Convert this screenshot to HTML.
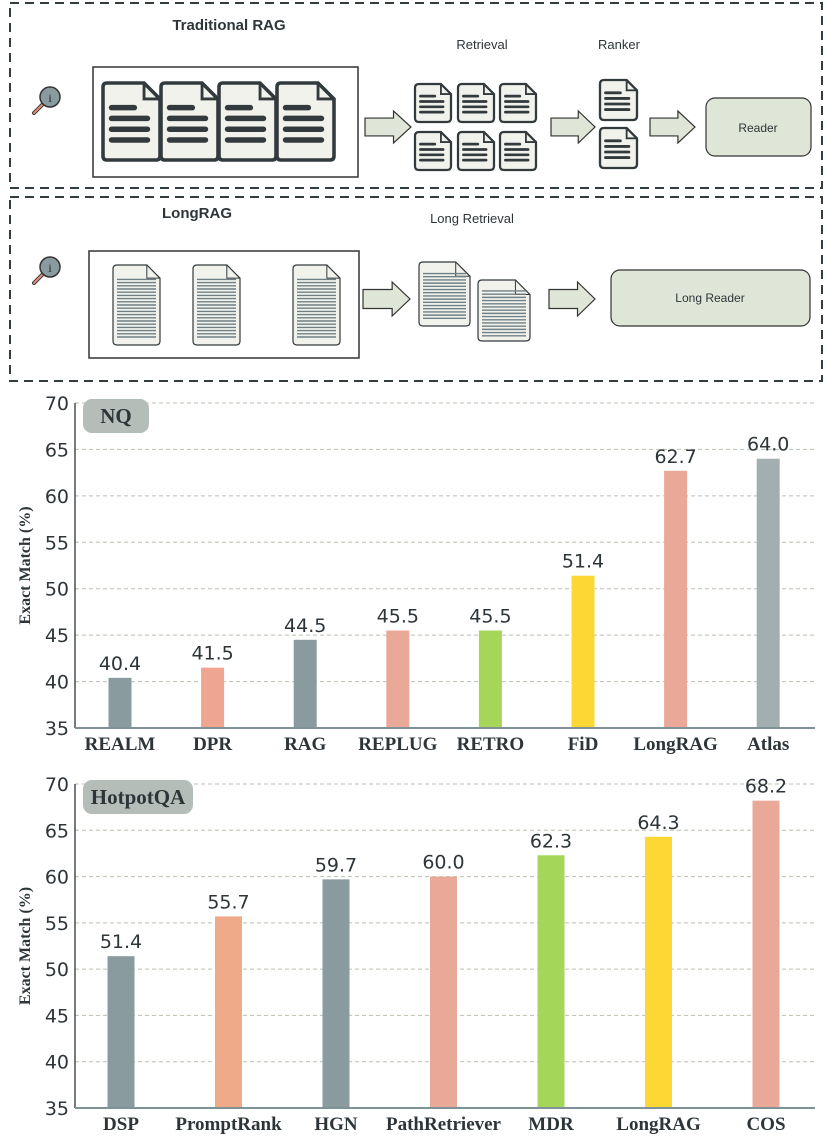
<!DOCTYPE html>
<html><head><meta charset="utf-8"><style>
html,body{margin:0;padding:0;background:#fff;}
svg{display:block;font-family:"Liberation Sans",sans-serif;}
.serif{font-family:"Liberation Serif",serif;font-weight:bold;}
.dv{font-family:"DejaVu Sans",sans-serif;}
</style></head><body>
<svg id="s" width="830" height="1145" viewBox="0 0 830 1145">
<g id="diag">
<rect x="10" y="3" width="812" height="185" fill="none" stroke="#333c40" stroke-width="2" stroke-dasharray="9,6"/>
<text x="229" y="30" font-size="15" font-weight="bold" fill="#2d3539" text-anchor="middle">Traditional RAG</text>
<text x="482" y="49" font-size="13" fill="#2d3539" text-anchor="middle">Retrieval</text>
<text x="619" y="49" font-size="13" fill="#2d3539" text-anchor="middle">Ranker</text>
<rect x="93" y="67" width="265" height="110" fill="#fff" stroke="#333" stroke-width="1.5"/>
<rect x="706" y="98" width="105" height="58" rx="9" fill="#dfe6d8" stroke="#333" stroke-width="1.2"/>
<text x="758" y="132" font-size="12" fill="#2d3539" text-anchor="middle">Reader</text>
<rect x="10" y="197" width="812" height="184" fill="none" stroke="#333c40" stroke-width="2" stroke-dasharray="9,6"/>
<text x="197" y="218" font-size="15" font-weight="bold" fill="#2d3539" text-anchor="middle">LongRAG</text>
<text x="472" y="223" font-size="13" fill="#2d3539" text-anchor="middle">Long Retrieval</text>
<rect x="89" y="251" width="270" height="107" fill="#fff" stroke="#333" stroke-width="1.5"/>
<rect x="611" y="270" width="199" height="56" rx="9" fill="#dfe6d8" stroke="#333" stroke-width="1.2"/>
<text x="710" y="302" font-size="12" fill="#2d3539" text-anchor="middle">Long Reader</text>
</g>
<g id="chart1"></g>
<g id="chart2"></g>
</svg>
<script>
const NS="http://www.w3.org/2000/svg";
const svg=document.getElementById('s');
const diag=document.getElementById('diag');
function mk(tag,attrs,parent){const e=document.createElementNS(NS,tag);for(const k in attrs)e.setAttribute(k,attrs[k]);(parent||svg).appendChild(e);return e;}

function doc(x,y,w,h,dense){
  const g=mk('g',{},diag);
  
  
  const f=w*0.28;
  mk('path',{d:`M${x+4} ${y} H${x+w-f} L${x+w} ${y+f} V${y+h-4} Q${x+w} ${y+h} ${x+w-4} ${y+h} H${x+4} Q${x} ${y+h} ${x} ${y+h-4} V${y+4} Q${x} ${y} ${x+4} ${y} Z`,fill:'#f1f2ec',stroke:'#333a3d','stroke-width':dense?1.2:Math.max(2,w/16)},g);
  mk('path',{d:`M${x+w-f} ${y} V${y+f} H${x+w}`,fill:'none',stroke:'#333a3d','stroke-width':dense?1:Math.max(1.5,w/20)},g);
  if(dense){
    for(let yy=y+h*0.18;yy<y+h-5;yy+=3.2) mk('line',{x1:x+4,x2:x+w-4,y1:yy,y2:yy,stroke:'#6e7f85','stroke-width':1.4},g);
  } else {
    const lw=Math.max(1.5,h/14);
    for(let i=0;i<4;i++){const yy=y+h*(0.32+i*0.14);mk('line',{x1:x+w*0.15,x2:x+w*(i==0?0.55:0.78),y1:yy,y2:yy,stroke:'#333a3d','stroke-width':lw,'stroke-linecap':'round'},g);}
  }
}
function arrow(x,y,w,h){
  const a=mk('path',{d:`M${x} ${y-h*0.28} H${x+w*0.62} V${y-h/2} L${x+w} ${y} L${x+w*0.62} ${y+h/2} V${y+h*0.28} H${x} Z`,fill:'#dfe6d8',stroke:'#333','stroke-width':1.2},diag);
  
  
}
function mag(cx,cy){
  const g=mk('g',{},diag);
  
  
  mk('line',{x1:cx-6,y1:cy+6,x2:cx-14,y2:cy+14,stroke:'#333','stroke-width':4,'stroke-linecap':'round'},g);
  mk('line',{x1:cx-6,y1:cy+6,x2:cx-14,y2:cy+14,stroke:'#e0907a','stroke-width':2,'stroke-linecap':'round'},g);
  mk('circle',{cx:cx+2,cy:cy-2,r:10,fill:'#8a9ba0',stroke:'#333','stroke-width':1.5},g);
  mk('text',{x:cx+2,y:cy+3,'font-size':12,'text-anchor':'middle',fill:'#222','font-family':'Liberation Serif'},g).textContent='i';
}
mag(48,99); mag(48,269);
[103,161,219,277].forEach(x=>doc(x,83,57,77,false));
[[415,84],[458,84],[500,84],[415,132],[458,132],[500,132]].forEach(p=>doc(p[0],p[1],36,38,false));
doc(600,80,37,40,false); doc(600,128,37,40,false);
arrow(365,127,46,32); arrow(551,127,44,32); arrow(650,127,45,32);
[113,193,293].forEach(x=>doc(x,265,47,80,true));
doc(419,262,51,64,true); doc(478,280,52,61,true);
arrow(363,299,47,34); arrow(549,299,46,34);

/* ---------- charts ---------- */
const nqCategories=["REALM","DPR","RAG","REPLUG","RETRO","FiD","LongRAG","Atlas"];
const nqValues=[40.4,41.5,44.5,45.5,45.5,51.4,62.7,64.0];
const nqColors=["#8a9ba0","#eea690","#8a9ba0","#e9a898","#a5d65a","#fdd835","#e9a898","#a3aeb0"];
const hpCategories=["DSP","PromptRank","HGN","PathRetriever","MDR","LongRAG","COS"];
const hpValues=[51.4,55.7,59.7,60.0,62.3,64.3,68.2];
const hpColors=["#8a9ba0","#efaa8a","#8a9ba0","#e9a898","#a5d65a","#fdd835","#e9a898"];
const yTicks=[35,40,45,50,55,60,65,70];

function chart(gid,title,tw,cats,vals,cols,top,bottom,x0,x1,firstC,step,bw){
  const g=document.getElementById(gid);
  const y=v=>bottom-(v-35)/35*(bottom-top);
  const x=i=>firstC+i*step;
  yTicks.forEach(t=>{
    if(t>35){const l=mk('line',{x1:x0,x2:x1,y1:y(t),y2:y(t),stroke:'#b8c2b0','stroke-width':1,'stroke-dasharray':'4,3'},g);
    
    }
    const tx=mk('text',{x:x0-6,y:y(t)+7,'font-size':19,'text-anchor':'end',fill:'#2d3539',class:'dv'},g);
    tx.textContent=t;
    
    
  });
  const b=mk('rect',{x:x0+8,y:top-4,width:tw,height:34,rx:9,fill:'#b4bdb8'},g);
  
  
  const bt=mk('text',{x:x0+8+tw/2,y:top+20,'font-size':21,'text-anchor':'middle',fill:'#2d3539',class:'serif'},g);
  bt.textContent=title;
  
  
  cats.forEach((c,i)=>{
    const r=mk('rect',{x:x(i)-bw/2,y:y(vals[i]),width:bw,height:bottom-y(vals[i]),fill:cols[i]},g);
    
    
    const v=mk('text',{x:x(i),y:y(vals[i])-8,'font-size':19,'text-anchor':'middle',fill:'#2d3539',class:'dv'},g);
    v.textContent=vals[i].toFixed(1);
    
    
    const l=mk('text',{x:x(i),y:bottom+22,'font-size':19,'text-anchor':'middle',fill:'#2d3539',class:'serif'},g);
    l.textContent=c;
    
    
  });
  const ax=mk('line',{x1:x0,x2:x0,y1:top,y2:bottom,stroke:'#2d3539','stroke-width':1.3},g);
  
  
  const bx=mk('line',{x1:x0,x2:x1,y1:bottom,y2:bottom,stroke:'#7f9296','stroke-width':2},g);
  
  
  const yt=mk('text',{x:0,y:0,'font-size':16,'text-anchor':'middle',fill:'#2d3539',class:'serif',transform:`translate(30 ${(top+bottom)/2}) rotate(-90)`},g);
  yt.textContent='Exact Match (%)';
  
  
}
chart('chart1','NQ',66,nqCategories,nqValues,nqColors,403,728,75,815,120,92.6,23);
chart('chart2','HotpotQA',110,hpCategories,hpValues,hpColors,784,1108,75,815,121,107.5,27);
</script>
</body></html>
